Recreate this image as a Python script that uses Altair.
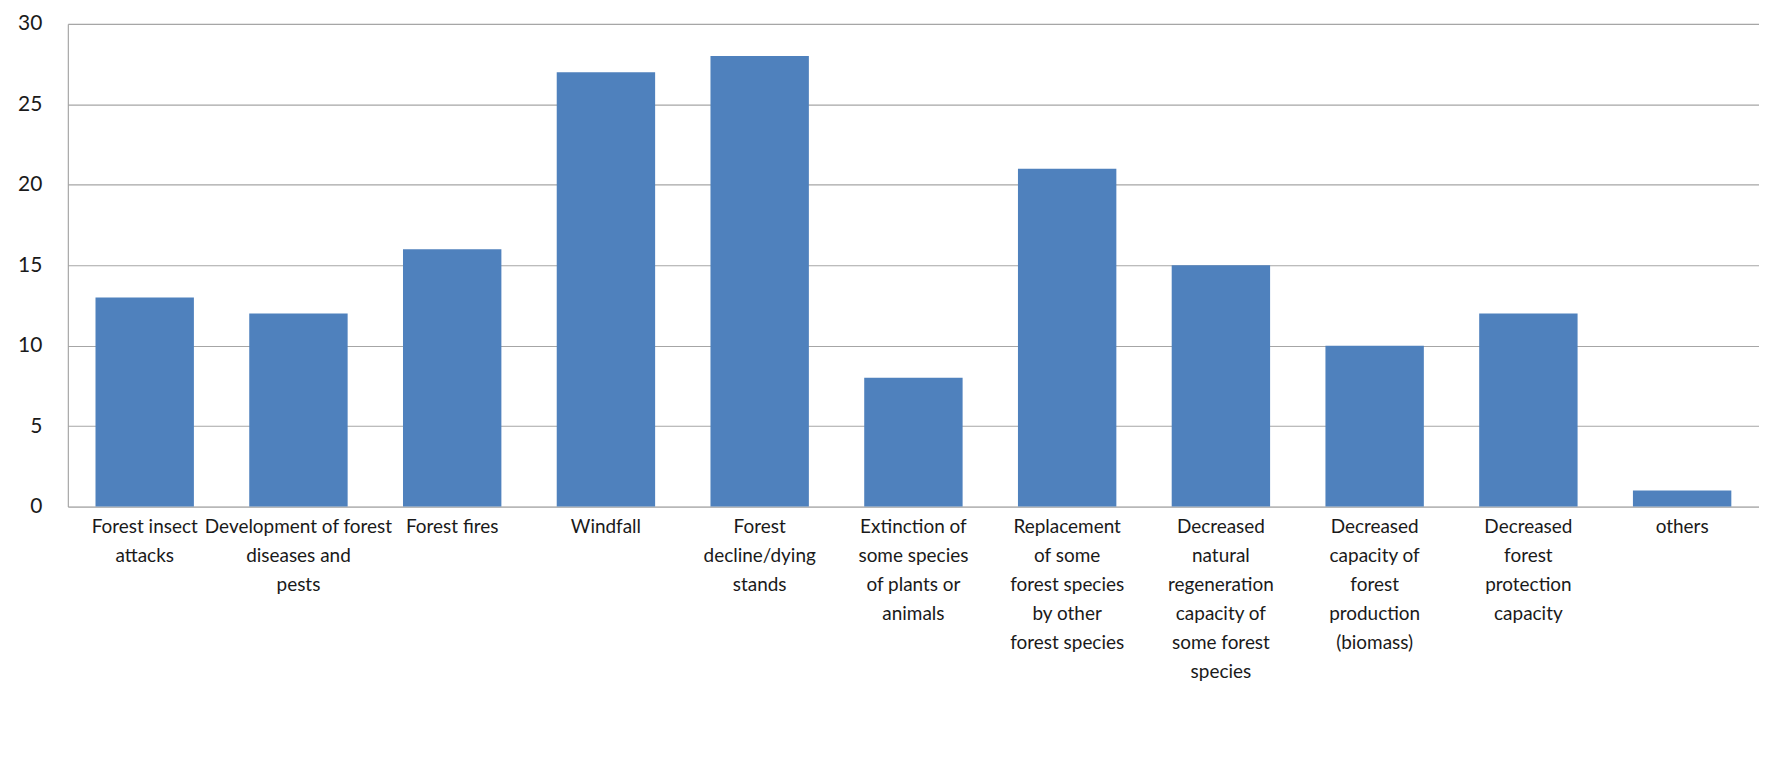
import altair as alt
import pandas as pd

categories = [
    "Forest insect|attacks",
    "Development of forest|diseases and|pests",
    "Forest fires",
    "Windfall",
    "Forest|decline/dying|stands",
    "Extinction of|some species|of plants or|animals",
    "Replacement|of some|forest species|by other|forest species",
    "Decreased|natural|regeneration|capacity of|some forest|species",
    "Decreased|capacity of|forest|production|(biomass)",
    "Decreased|forest|protection|capacity",
    "others",
]
values = [13, 12, 16, 27, 28, 8, 21, 15, 10, 12, 1]
y_ticks = [0, 5, 10, 15, 20, 25, 30]

df = pd.DataFrame({"category": categories, "value": values})

chart = alt.Chart(df).mark_bar(color="#4F81BD").encode(
    x=alt.X(
        "category:N",
        sort=None,
        title=None,
        scale=alt.Scale(paddingInner=0.36, paddingOuter=0.18),
        axis=alt.Axis(
            labelExpr="split(datum.value, '|')",
            labelAngle=0,
            labelFont="Lato",
            labelFontSize=19,
            labelColor="#1a1a1a",
            labelLineHeight=29,
            labelPadding=11,
            labelOverlap=False,
            labelBound=False,
            labelLimit=0,
            labelAlign="center",
            labelBaseline="top",
            ticks=False,
            domain=False,
            grid=False,
        ),
    ),
    y=alt.Y(
        "value:Q",
        title=None,
        scale=alt.Scale(domain=[0, 30], nice=False),
        axis=alt.Axis(
            values=y_ticks,
            labelFont="Lato",
            labelFontSize=21,
            labelColor="#1a1a1a",
            labelPadding=26,
            minExtent=60,
            maxExtent=60,
            ticks=False,
            domain=True,
            domainColor="#a0a0a0",
            gridColor="#a6a6a6",
            gridWidth=1.2,
            grid=True,
        ),
    ),
).properties(width=1696, height=484).configure_view(stroke=None).configure(background="white")

chart = chart.properties(padding={"left": 0, "top": 4, "right": 0, "bottom": 0})

chart.save("out.html", embed_options={"renderer": "svg", "actions": False})
